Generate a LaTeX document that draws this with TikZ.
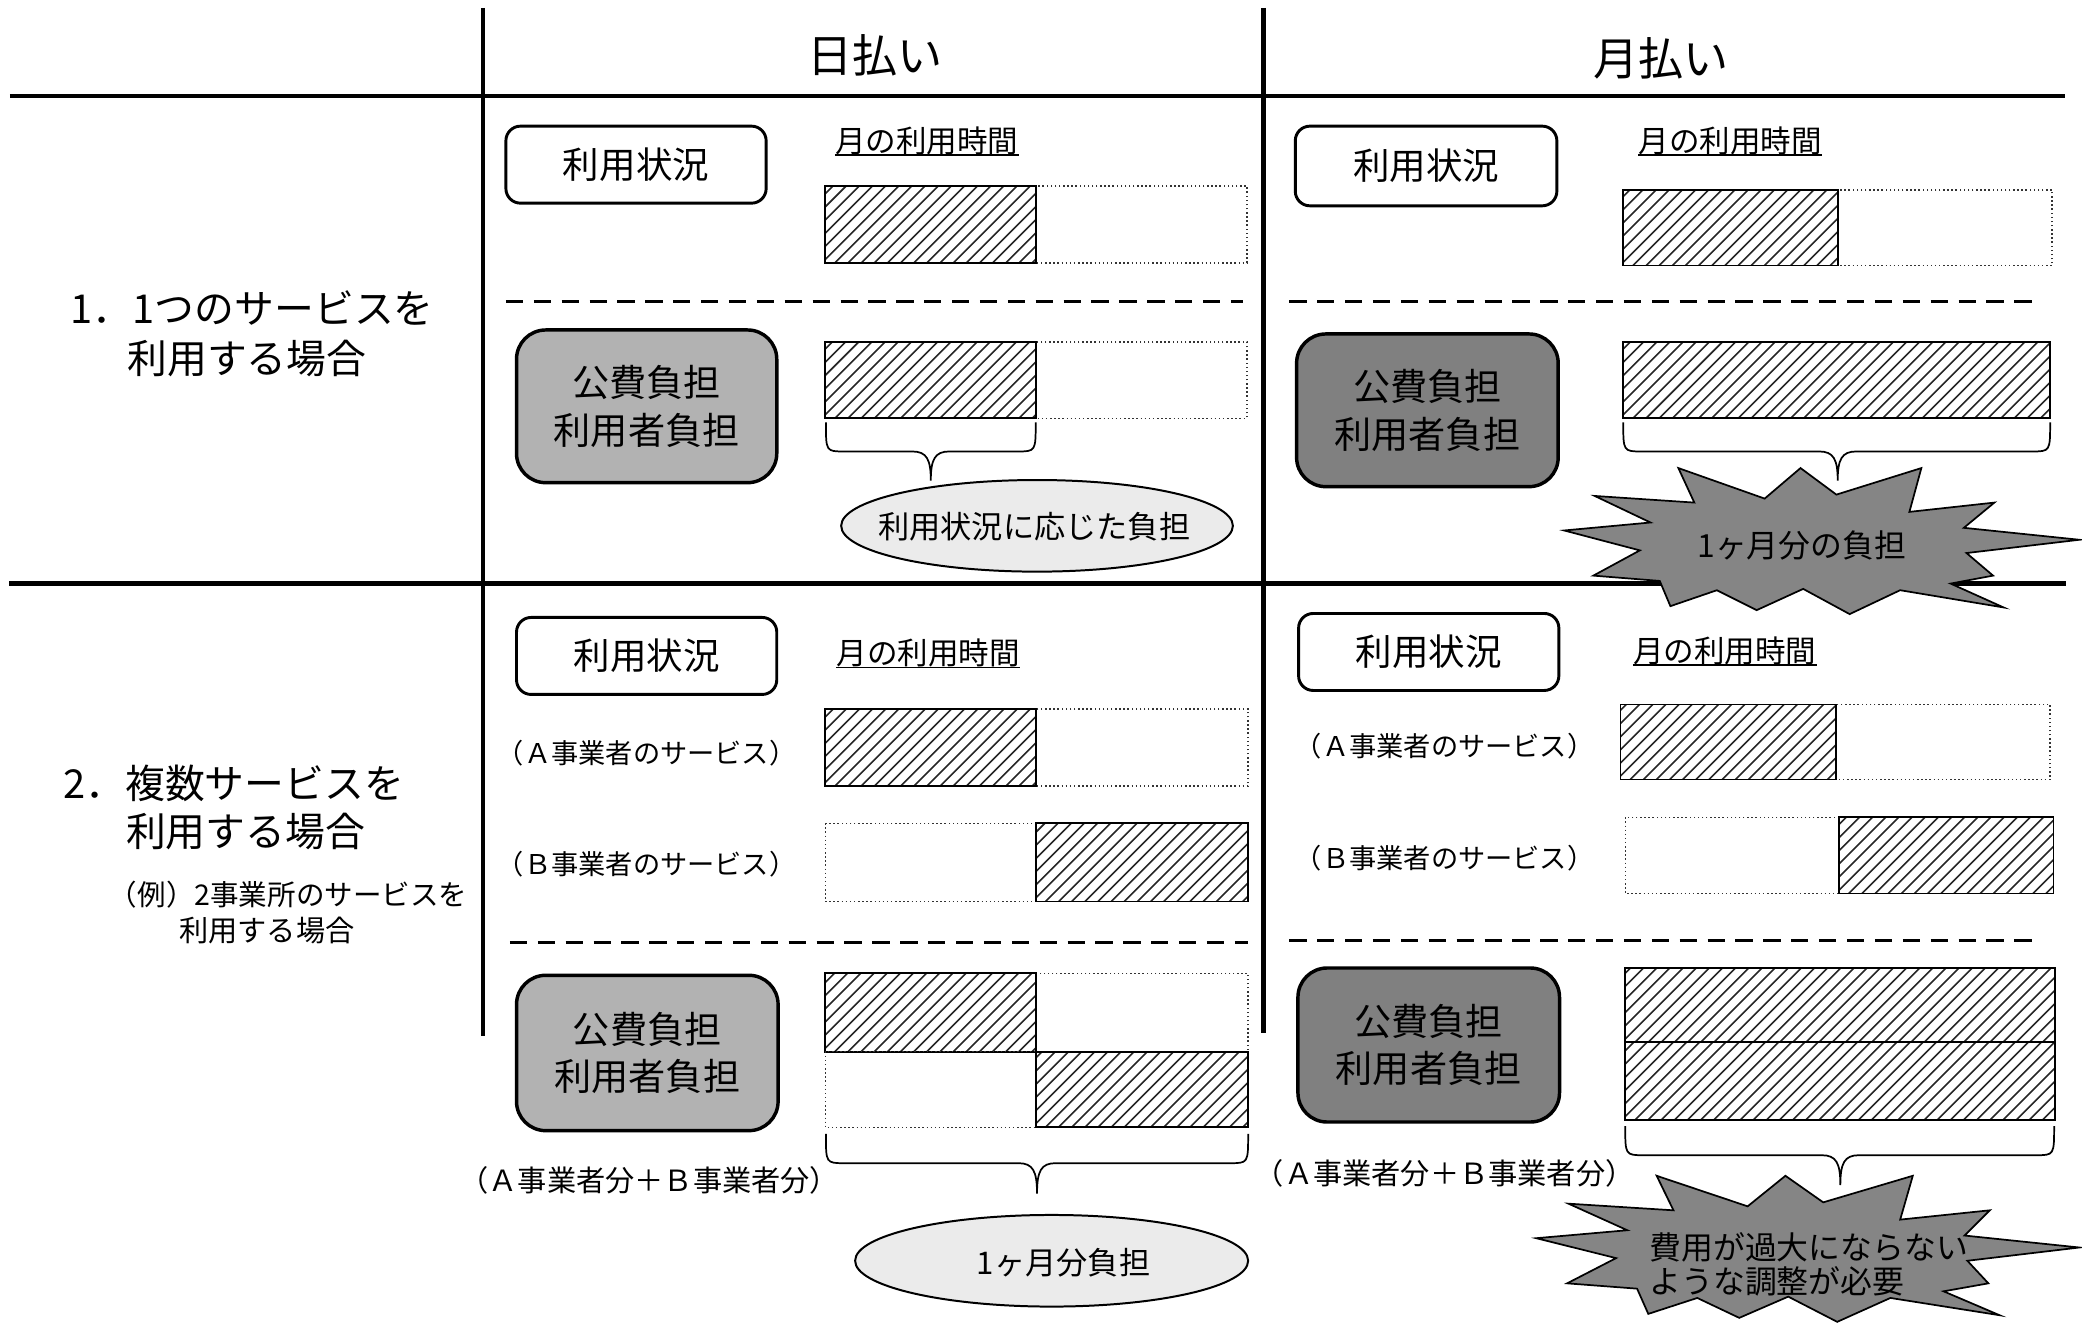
\documentclass[tikz,border=0pt]{standalone}
\usepackage{fontspec}
\setmainfont{Noto Sans CJK JP}
\usetikzlibrary{shapes.geometric}
\newcommand\setfs[1]{\fontsize{#1}{#1}\selectfont}
\newcommand\setfsb[2]{\fontsize{#1}{#2}\selectfont}
\definecolor{boxlight}{gray}{0.70}
\definecolor{boxdark}{gray}{0.50}
\definecolor{burstgray}{gray}{0.52}
\definecolor{ellgray}{gray}{0.92}
\tikzset{
  gridline/.style={line width=3.2pt, black},
  sepline/.style={line width=2.4pt, dash pattern=on 13pt off 8pt},
  statusbox/.style={draw, line width=2.2pt, rounded corners=11pt, fill=white, font=\setfs{27.5}},
  burdenbox/.style={draw, line width=2.6pt, rounded corners=22pt, align=center, font=\setfsb{28}{36}},
  hatchline/.style={line width=1.2pt, black!85},
  braceline/.style={line width=1.3pt},
  ellbox/.style={ellipse, draw, line width=1.5pt, fill=ellgray},
  burstshape/.style={draw, line width=1.3pt, fill=burstgray, line join=miter},
  monthlbl/.style={font=\setfs{23}},
  svclbl/.style={font=\setfs{20.5}},
}
\newcommand\hatchrect[4]{%
  \begin{scope}
    \clip (#1,#2) rectangle (#3,#4);
    \foreach \i in {0,...,40} \draw[hatchline] ({#1-64+\i*9.9},{#4+2}) -- ++(64,-64);
  \end{scope}
  \draw[line width=1.3pt] (#1,#2) rectangle (#3,#4);}
\newcommand\emptyrect[4]{\draw[dotted, line width=1.1pt, black!80] (#1,#2) rectangle (#3,#4);}
\newcommand\bracedraw[6]{%
  \draw[braceline] (#1,#3) .. controls (#1,#4) and (#1,#4) .. ({#1+14},#4) -- ({#5-14},#4)
    .. controls ({#5-3},#4) and (#5,{#4+6}) .. (#5,#6)
    .. controls (#5,{#4+6}) and ({#5+3},#4) .. ({#5+14},#4) -- ({#2-14},#4)
    .. controls (#2,#4) and (#2,#4) .. (#2,#3);}
\begin{document}
\begin{tikzpicture}[x=1pt,y=-1pt, every node/.style={inner sep=0pt}]
\useasboundingbox (0,0) rectangle (1568,997);
% ---------- grid ----------
\coordinate (v1t) at (363.5,6);   \coordinate (v1b) at (363.5,780);
\coordinate (v2t) at (951.5,6);   \coordinate (v2b) at (951.5,778);
\coordinate (h1l) at (7.5,72.5);  \coordinate (h1r) at (1555,72.5);
\coordinate (h2l) at (7,439.5);   \coordinate (h2r) at (1556,439.5);
\draw[gridline] (v1t) -- (v1b);
\draw[gridline] (v2t) -- (v2b);
\draw[gridline] (h1l) -- (h1r);
\draw[gridline] (h2l) -- (h2r);
% dashed separators
\coordinate (d1a) at (381,227);  \coordinate (d1b) at (936,227);
\coordinate (d2a) at (971,227);  \coordinate (d2b) at (1534,227);
\coordinate (d3a) at (384,710);  \coordinate (d3b) at (940,710);
\coordinate (d4a) at (971,708);  \coordinate (d4b) at (1534,708);
\draw[sepline] (d1a) -- (d1b);
\draw[sepline] (d2a) -- (d2b);
\draw[sepline] (d3a) -- (d3b);
\draw[sepline] (d4a) -- (d4b);
% ---------- headers ----------
\node[font=\setfs{34}] (hday) at (659,42) {日払い};
\node[font=\setfs{34}] (hmon) at (1251,44) {月払い};
% ---------- left labels ----------
\node[font=\setfs{30}] (l1a) at (190,232) {1．1つのサービスを};
\node[font=\setfs{30}] (l1b) at (186,270) {利用する場合};
\node[font=\setfs{30}] (l2a) at (176,590) {2．複数サービスを};
\node[font=\setfs{30}] (l2b) at (185,626) {利用する場合};
\node[font=\setfs{21.5}] (l2c) at (217,674) {（例）2事業所のサービスを};
\node[font=\setfs{22}] (l2d) at (201,701) {利用する場合};
% ================= row 1, left =================
\node[statusbox, minimum width=196pt, minimum height=58pt] (s11) at (479,124) {利用状況};
\node[monthlbl] (m11) at (698,106) {月の利用時間};
\draw[line width=1.2pt] (m11.south west) -- (m11.south east);
\emptyrect{780}{140}{939}{198}
\hatchrect{621.5}{140}{780}{198}
\node[burdenbox, fill=boxlight, minimum width=196pt, minimum height=115pt] (b11) at (487,306) {公費負担\\利用者負担};
\emptyrect{780}{257.6}{939}{315}
\hatchrect{621.5}{257.6}{780}{315}
\bracedraw{622}{780}{318}{340}{701}{362}
\node[ellbox, minimum width=295pt, minimum height=69pt] (e11) at (781,396) {};
\node[font=\setfs{23.5}] (e11t) at (779,397) {利用状況に応じた負担};
% ================= row 1, right =================
\node[statusbox, minimum width=197pt, minimum height=60pt] (s12) at (1074,125) {利用状況};
\node[monthlbl] (m12) at (1303,106) {月の利用時間};
\draw[line width=1.2pt] (m12.south west) -- (m12.south east);
\emptyrect{1384}{143}{1545.5}{200}
\hatchrect{1222.5}{143}{1384}{200}
\node[burdenbox, fill=boxdark, minimum width=197pt, minimum height=115pt] (b12) at (1075,309) {公費負担\\利用者負担};
\hatchrect{1222.5}{257.6}{1544}{315}
\bracedraw{1222.5}{1544}{318}{340}{1384}{362}
\begin{scope}[shift={(1372,408)}]
\draw[burstshape] (-194,-8.5) -- (-129,-14.5) -- (-171,-34.5) -- (-96,-29.5) -- (-108,-55.5)
  -- (-43,-32.5) -- (-16,-55.5) -- (11,-35.5) -- (75,-55.5) -- (66,-22.5) -- (130,-29.5)
  -- (107,-10.5) -- (194,-1.5) -- (109,8.5) -- (129,25.5) -- (97,31.5) -- (137,49.5)
  -- (59,36.5) -- (21,54.5) -- (-14,35.5) -- (-49,51.5) -- (-79,36.5) -- (-114,48.5)
  -- (-122,29.5) -- (-172,25.5) -- (-137,6.5) -- cycle;
\end{scope}
\node[font=\setfs{24}] (burst1t) at (1357,411) {1ヶ月分の負担};
% ================= row 2, left =================
\node[statusbox, minimum width=196pt, minimum height=58pt] (s21) at (487,494) {利用状況};
\node[monthlbl] (m21) at (699,492) {月の利用時間};
\draw[line width=1.2pt] (m21.south west) -- (m21.south east);
\node[svclbl] (a21) at (487,567) {（Ａ事業者のサービス）};
\emptyrect{780}{534}{940}{592}
\hatchrect{621.5}{534}{780}{592}
\node[svclbl] (c21) at (487,651) {（Ｂ事業者のサービス）};
\emptyrect{621.5}{620}{780}{679}
\hatchrect{780}{620}{940}{679}
\node[burdenbox, fill=boxlight, minimum width=197pt, minimum height=117pt] (b21) at (487.5,793) {公費負担\\利用者負担};
\emptyrect{780}{733}{940}{792}
\hatchrect{621.5}{733}{780}{792}
\emptyrect{621.5}{792}{780}{849}
\hatchrect{780}{792}{940}{849}
\bracedraw{622}{940}{854}{876}{781}{899}
\node[font=\setfs{22}] (sum21) at (489,889) {（Ａ事業者分＋Ｂ事業者分）};
\node[ellbox, minimum width=296pt, minimum height=69pt] (e21) at (792,949.5) {};
\node[font=\setfs{23.5}] (e21t) at (801,951) {1ヶ月分負担};
% ================= row 2, right =================
\node[statusbox, minimum width=196pt, minimum height=58pt] (s22) at (1076,491) {利用状況};
\node[monthlbl] (m22) at (1299,490) {月の利用時間};
\draw[line width=1.2pt] (m22.south west) -- (m22.south east);
\node[svclbl] (a22) at (1088,562) {（Ａ事業者のサービス）};
\emptyrect{1382.5}{530.5}{1544}{587}
\hatchrect{1220.5}{530.5}{1382.5}{587}
\node[svclbl] (c22) at (1088,646) {（Ｂ事業者のサービス）};
\emptyrect{1224}{615.5}{1385}{673}
\hatchrect{1385}{615.5}{1546.5}{673}
\node[burdenbox, fill=boxdark, minimum width=197pt, minimum height=116pt] (b22) at (1076,787) {公費負担\\利用者負担};
\hatchrect{1224}{729}{1547.5}{785}
\hatchrect{1224}{785}{1547.5}{843.5}
\bracedraw{1224}{1547}{848}{870}{1386}{892.5}
\node[font=\setfs{22}] (sum22) at (1088,884) {（Ａ事業者分＋Ｂ事業者分）};
\begin{scope}[shift={(1361.5,941)}, xscale=1.054, yscale=1.0]
\draw[burstshape] (-194,-8.5) -- (-129,-14.5) -- (-171,-34.5) -- (-96,-29.5) -- (-108,-55.5)
  -- (-43,-32.5) -- (-16,-55.5) -- (11,-35.5) -- (75,-55.5) -- (66,-22.5) -- (130,-29.5)
  -- (112,-10.5) -- (194,-1.5) -- (114,8.5) -- (129,25.5) -- (97,31.5) -- (137,49.5)
  -- (59,36.5) -- (21,54.5) -- (-14,35.5) -- (-49,51.5) -- (-79,36.5) -- (-114,48.5)
  -- (-122,29.5) -- (-172,25.5) -- (-137,6.5) -- cycle;
\end{scope}
\node[font=\setfsb{24}{25.5}, align=left, anchor=west] (burst2t) at (1242,952) {費用が過大にならない\\ような調整が必要};
\end{tikzpicture}
\end{document}
